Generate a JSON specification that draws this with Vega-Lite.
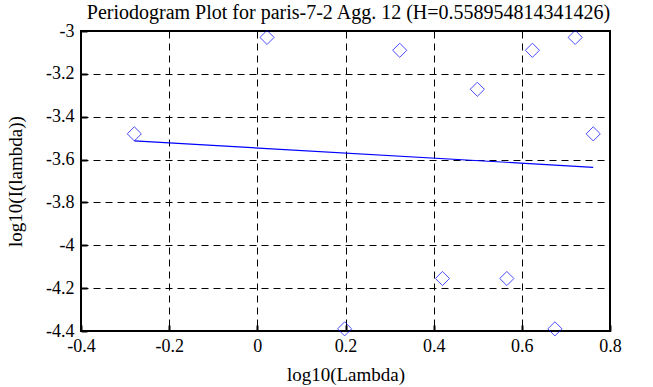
{
  "$schema": "https://vega.github.io/schema/vega-lite/v6.json",
  "autosize": "none",
  "width": 529,
  "height": 300,
  "padding": {"left": 81, "top": 31, "right": 43, "bottom": 56},
  "background": "white",
  "config": {
    "font": "Liberation Serif",
    "view": {"stroke": "black", "strokeWidth": 2}
  },
  "title": {
    "text": "Periodogram Plot for paris-7-2 Agg. 12 (H=0.558954814341426)",
    "font": "Liberation Serif",
    "fontSize": 20,
    "fontWeight": "normal",
    "color": "black",
    "anchor": "middle",
    "dx": 3,
    "offset": -1
  },
  "datasets": {
    "pts": [
      {"x": -0.279, "y": -3.48},
      {"x": 0.022, "y": -3.03},
      {"x": 0.198, "y": -4.39},
      {"x": 0.323, "y": -3.09},
      {"x": 0.420, "y": -4.155},
      {"x": 0.499, "y": -3.272},
      {"x": 0.566, "y": -4.155},
      {"x": 0.624, "y": -3.09},
      {"x": 0.675, "y": -4.39},
      {"x": 0.721, "y": -3.03},
      {"x": 0.762, "y": -3.48}
    ],
    "fit": [
      {"x": -0.279, "y": -3.513},
      {"x": 0.762, "y": -3.636}
    ]
  },
  "layer": [
    {
      "data": {"name": "fit"},
      "mark": {"type": "line", "color": "#0000ff", "strokeWidth": 1.2, "clip": true},
      "encoding": {
        "x": {
          "field": "x", "type": "quantitative",
          "scale": {"domain": [-0.4, 0.8], "nice": false, "zero": false},
          "axis": {
            "title": "log10(Lambda)",
            "titleFont": "Liberation Serif", "titleFontSize": 19, "titleFontWeight": "normal", "titleColor": "black", "titlePadding": 10,
            "values": [-0.4, -0.2, 0, 0.2, 0.4, 0.6, 0.8],
            "labelExpr": "toString(datum.value)",
            "labelFont": "Liberation Serif", "labelFontSize": 18, "labelColor": "black", "labelPadding": 12,
            "labelOverlap": false, "labelFlush": false,
            "domain": false,
            "tickColor": "black", "tickSize": -6, "tickWidth": 2,
            "grid": true, "gridColor": "black", "gridDash": [7, 5], "gridWidth": 1, "gridOpacity": 1
          }
        },
        "y": {
          "field": "y", "type": "quantitative",
          "scale": {"domain": [-4.4, -3], "nice": false, "zero": false},
          "axis": {
            "title": "log10(I(lambda))",
            "titleFont": "Liberation Serif", "titleFontSize": 19, "titleFontWeight": "normal", "titleColor": "black", "titlePadding": 20,
            "values": [-4.4, -4.2, -4, -3.8, -3.6, -3.4, -3.2, -3],
            "labelExpr": "toString(datum.value)",
            "labelFont": "Liberation Serif", "labelFontSize": 18, "labelColor": "black", "labelPadding": 13,
            "labelOverlap": false, "labelFlush": false,
            "domain": false,
            "tickColor": "black", "tickSize": -6, "tickWidth": 2,
            "grid": true, "gridColor": "black", "gridDash": [7, 5], "gridWidth": 1, "gridOpacity": 1
          }
        }
      }
    },
    {
      "data": {"name": "pts"},
      "mark": {"type": "point", "shape": "diamond", "size": 200, "filled": false, "color": "#0000ff", "strokeWidth": 1, "clip": false},
      "encoding": {
        "x": {"field": "x", "type": "quantitative"},
        "y": {"field": "y", "type": "quantitative"}
      }
    }
  ]
}
